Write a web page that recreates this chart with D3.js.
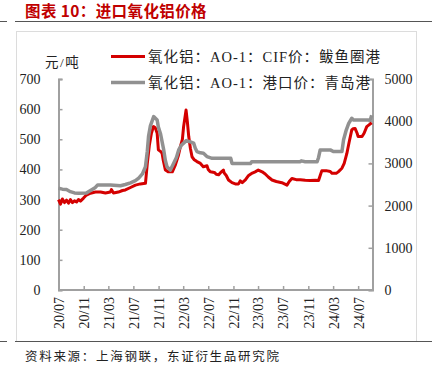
<!DOCTYPE html>
<html><head><meta charset="utf-8">
<script src="https://cdn.jsdelivr.net/npm/d3@7"></script>
<style>
body{margin:0;background:#fff;}
svg{display:block;}
</style></head>
<body>
<svg id="c" width="432" height="378"></svg>
<script>
// ---- data ----
const redDates = ["2020-07-01","2020-07-11","2020-07-20","2020-07-30","2020-08-09","2020-08-19","2020-08-28","2020-09-07","2020-09-17","2020-09-27","2020-10-06","2020-10-16","2020-10-31","2020-11-14","2020-12-04","2020-12-28","2021-01-22","2021-02-15","2021-03-11","2021-03-16","2021-03-26","2021-04-19","2021-05-09","2021-05-23","2021-06-17","2021-07-11","2021-08-04","2021-08-29","2021-09-07","2021-09-17","2021-09-27","2021-10-07","2021-10-16","2021-10-25","2021-10-31","2021-11-10","2021-11-18","2021-11-24","2021-12-04","2021-12-19","2022-01-07","2022-01-22","2022-02-05","2022-02-15","2022-02-25","2022-03-03","2022-03-15","2022-03-21","2022-03-28","2022-04-05","2022-04-13","2022-04-24","2022-05-07","2022-05-24","2022-06-07","2022-06-25","2022-07-01","2022-07-11","2022-07-31","2022-08-09","2022-08-21","2022-09-03","2022-09-13","2022-09-17","2022-09-27","2022-10-08","2022-10-25","2022-11-10","2022-11-26","2022-12-04","2022-12-14","2022-12-29","2023-01-14","2023-02-01","2023-02-15","2023-03-02","2023-03-21","2023-04-05","2023-04-20","2023-05-08","2023-05-29","2023-06-25","2023-07-20","2023-07-31","2023-08-13","2023-09-03","2023-09-23","2023-10-17","2023-11-10","2023-12-05","2023-12-21","2023-12-29","2024-01-06","2024-01-27","2024-02-16","2024-02-25","2024-03-16","2024-03-26","2024-04-13","2024-04-24","2024-05-07","2024-05-18","2024-05-31","2024-06-07","2024-06-16","2024-06-26","2024-07-01","2024-07-20","2024-07-30","2024-08-12","2024-08-23","2024-09-05"];
const redValues = [300,285,302,290,298,288,300,290,296,292,300,295,305,315,321,325,325,322,325,333,322,325,330,332,340,348,352,354,420,480,520,542,538,520,465,460,454,430,398,392,392,415,445,475,500,542,597,560,509,470,442,432,426,420,409,412,400,392,390,384,382,392,398,388,380,365,356,352,352,362,356,365,380,388,392,398,392,385,375,365,360,356,348,360,370,366,366,364,363,364,363,380,396,396,393,387,387,392,404,420,453,490,531,535,536,520,509,509,520,542,548,555];

const grayDates = ["2020-07-01","2020-07-20","2020-08-09","2020-08-28","2020-09-17","2020-10-06","2020-11-14","2020-12-04","2020-12-28","2021-01-08","2021-03-11","2021-04-29","2021-05-23","2021-06-17","2021-07-11","2021-07-27","2021-08-14","2021-08-29","2021-09-07","2021-09-13","2021-09-22","2021-10-08","2021-10-25","2021-10-31","2021-11-10","2021-11-26","2021-12-04","2021-12-12","2021-12-28","2022-01-13","2022-01-27","2022-02-07","2022-02-20","2022-03-03","2022-03-16","2022-04-05","2022-04-21","2022-04-29","2022-05-07","2022-05-24","2022-06-08","2022-06-17","2022-06-25","2022-07-20","2022-10-19","2022-10-25","2023-01-24","2023-01-29","2023-09-23","2023-09-28","2023-10-17","2023-12-14","2023-12-21","2023-12-29","2024-02-16","2024-03-02","2024-04-13","2024-04-21","2024-05-04","2024-05-16","2024-05-31","2024-06-07","2024-08-29","2024-09-05"];
const grayValues = [2410,2390,2380,2330,2300,2290,2300,2360,2430,2490,2490,2470,2500,2540,2590,2650,2750,2920,3290,3640,3890,4110,4030,3860,3710,3320,3070,2920,2840,3000,3140,3320,3430,3480,3540,3510,3480,3360,3280,3250,3240,3200,3160,3120,3120,3000,3000,3040,3040,3060,3040,3040,3140,3320,3320,3280,3280,3560,3790,3950,4070,4030,4030,4140];

const leftTicks = [0,100,200,300,400,500,600,700];
const rightTicks = [0,1000,2000,3000,4000,5000];
const xTickLabels = ["20/07","20/11","21/03","21/07","21/11","22/03","22/07","22/11","23/03","23/07","23/11","24/03","24/07"];
const xStart = "2020-07-01", xEnd = "2024-09-09";
const redName = "氧化铝：AO-1：CIF价：鲅鱼圈港";
const grayName = "氧化铝：AO-1：港口价：青岛港";

// ---- drawing ----
const svg = d3.select("#c");
const parse = d3.timeParse("%Y-%m-%d");
const L = 58.5, R = 372.5, T = 79, B = 290;
const serif = "'Times New Roman','Liberation Serif','Noto Sans CJK SC',serif";
const cjk = "'Liberation Serif','Noto Sans CJK SC',serif";
const axisColor = "#a0a0a0";

// title & frame
svg.append("text").attr("x",25).attr("y",17).attr("fill","#c00000")
  .attr("font-family","'Noto Sans CJK SC',sans-serif").attr("font-weight","bold").attr("font-size",15.5)
  .attr("letter-spacing",0.4)
  .text("图表 10：进口氧化铝价格");
svg.append("line").attr("x1",0).attr("x2",7).attr("y1",21.5).attr("y2",21.5).attr("stroke","#555");
svg.append("line").attr("x1",15).attr("x2",432).attr("y1",21.5).attr("y2",21.5).attr("stroke","#555");
svg.append("rect").attr("x",16.5).attr("y",31.5).attr("width",400).attr("height",310).attr("fill","none").attr("stroke","#dcdcdc");
svg.append("line").attr("x1",0).attr("x2",7).attr("y1",341.5).attr("y2",341.5).attr("stroke","#555");
svg.append("line").attr("x1",15).attr("x2",432).attr("y1",341.5).attr("y2",341.5).attr("stroke","#555");
svg.append("text").attr("x",25).attr("y",361).attr("fill","#222")
  .attr("font-family","'Noto Sans CJK SC',sans-serif").attr("font-size",12.5).attr("letter-spacing",1.7)
  .text("资料来源：上海钢联，东证衍生品研究院");

// scales
const x = d3.scaleTime().domain([parse(xStart), parse(xEnd)]).range([L, R]);
const yL = d3.scaleLinear().domain([0,700]).range([B, T]);
const yR = d3.scaleLinear().domain([0,5000]).range([B, T]);

// axes
const gL = svg.append("g").attr("transform",`translate(${L},0)`)
  .call(d3.axisLeft(yL).tickValues(leftTicks).tickSize(-4).tickFormat(d3.format("d")));
const gR = svg.append("g").attr("transform",`translate(${R},0)`)
  .call(d3.axisRight(yR).tickValues(rightTicks).tickSize(-4).tickPadding(12).tickFormat(d3.format("d")));
const xTickDates = xTickLabels.map(s => parse("20"+s.slice(0,2)+"-"+s.slice(3)+"-01"));
const gX = svg.append("g").attr("transform",`translate(0,${B})`)
  .call(d3.axisBottom(x).tickValues(xTickDates).tickSize(-4).tickFormat((d,i)=>xTickLabels[i]));
[gL,gR,gX].forEach(g=>{
  g.select(".domain").attr("stroke",axisColor).attr("stroke-width",2);
  g.selectAll(".tick line").attr("stroke",axisColor).attr("stroke-width",1.5);
  g.selectAll("text").attr("font-family",serif).attr("font-size",14).attr("fill","#222");
});
gL.selectAll("text").attr("text-anchor","end").attr("x",-18);
gX.select(".domain").attr("d",`M${L},0H${R}`);
gX.selectAll(".tick text").attr("transform","rotate(-90)").attr("text-anchor","end")
  .attr("x",-7).attr("y",0).attr("dy","0.35em");

// lines
const redData = redDates.map((d,i)=>({d:parse(d), v:redValues[i]}));
const grayData = grayDates.map((d,i)=>({d:parse(d), v:grayValues[i]}));
svg.append("path").datum(redData).attr("fill","none").attr("stroke","#d40000").attr("stroke-width",3)
  .attr("stroke-linejoin","round")
  .attr("d", d3.line().x(p=>x(p.d)).y(p=>yL(p.v)));
svg.append("path").datum(grayData).attr("fill","none").attr("stroke","#919191").attr("stroke-width",3.5)
  .attr("stroke-linejoin","round")
  .attr("d", d3.line().x(p=>x(p.d)).y(p=>yR(p.v)));

// unit label
svg.append("text").attr("x",45).attr("y",67).attr("font-family",cjk).attr("font-size",13.5).attr("letter-spacing",1.5).attr("fill","#222").text("元/吨");

// legend
const leg = [{n:redName,c:"#d40000",y:56.5,w:3},{n:grayName,c:"#919191",y:82.5,w:3.5}];
leg.forEach(l=>{
  svg.append("line").attr("x1",111).attr("x2",145).attr("y1",l.y).attr("y2",l.y).attr("stroke",l.c).attr("stroke-width",l.w);
  svg.append("text").attr("x",148).attr("y",l.y+5).attr("font-family",cjk).attr("font-size",14.5).attr("letter-spacing",1).attr("fill","#222").text(l.n);
});
</script>
</body></html>
